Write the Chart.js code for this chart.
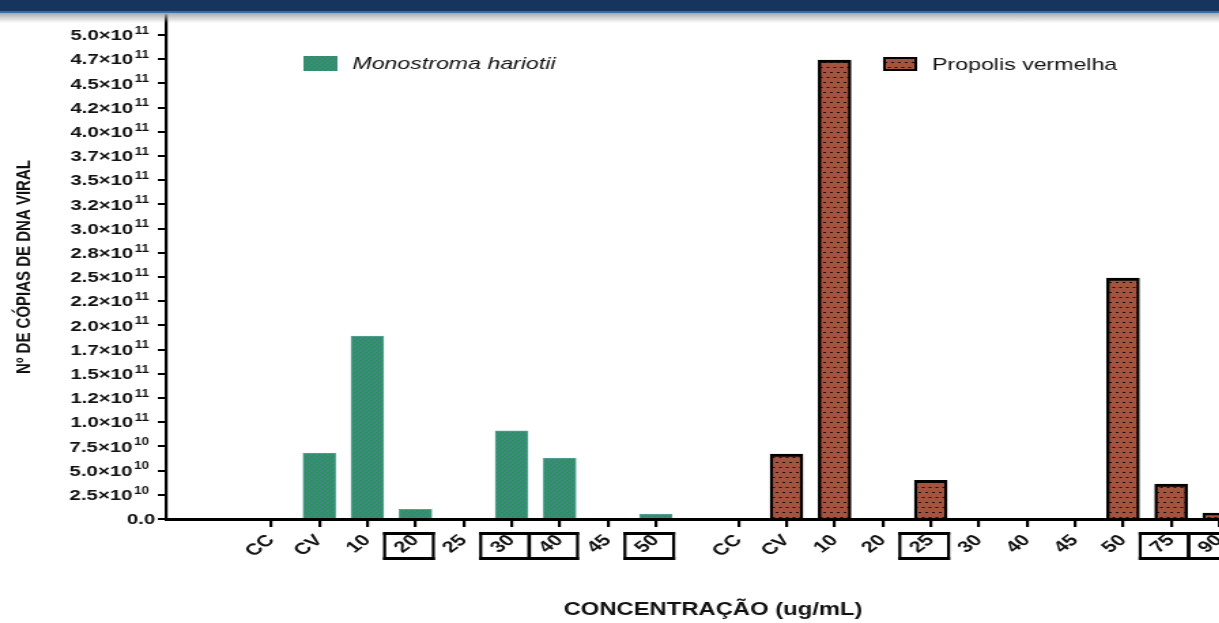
<!DOCTYPE html>
<html>
<head>
<meta charset="utf-8">
<script src="https://cdn.jsdelivr.net/npm/chart.js@4.4.1/dist/chart.umd.min.js"></script>
<style>
  html, body { margin: 0; padding: 0; background: #fff; overflow: hidden; width: 1219px; height: 623px; }
  #page { position: relative; width: 1219px; height: 623px; overflow: hidden; }
  /* the original figure is stretched sideways, so the chart is drawn narrow and scaled */
  #stretch { position: absolute; left: 0; top: 0; width: 926px; height: 623px; transform: scaleX(1.3607); transform-origin: 0 0; }
  #topbar { position: absolute; left: 0; top: 0; width: 100%; height: 11px; background: #17355c; }
  #topline { position: absolute; left: 0; top: 11px; width: 100%; height: 2px; background: #3f6ca8; }
  #topshade { position: absolute; left: 0; top: 13px; width: 100%; height: 10px; background: linear-gradient(#a9a9a9, rgba(255,255,255,0)); }
</style>
</head>
<body>
<div id="page">
  <div id="stretch"><canvas id="chart" width="926" height="623"></canvas></div>
  <div id="topbar"></div>
  <div id="topline"></div>
  <div id="topshade"></div>
</div>
<script>
  // --- data ---
  const MONO_LABELS = ['CC', 'CV', '10', '20', '25', '30', '40', '45', '50'];
  const MONO_VALUES = [0, 6.8e10, 1.89e11, 1.0e10, 0, 9.1e10, 6.3e10, 0, 5.0e9];
  const MONO_BOXED = ['20', '30', '40', '50'];

  const PROP_LABELS = ['CC', 'CV', '10', '20', '25', '30', '40', '45', '50', '75', '90'];
  const PROP_VALUES = [0, 6.7e10, 4.74e11, 0, 4.0e10, 0, 0, 0, 2.49e11, 3.6e10, 6.0e9];
  const PROP_BOXED = ['25', '75', '90'];

  // "mantissa×10^exp" as printed on the axis (bottom to top)
  const Y_TICK_LABELS = [
    '0.0', '2.5×10^10', '5.0×10^10', '7.5×10^10',
    '1.0×10^11', '1.2×10^11', '1.5×10^11', '1.7×10^11', '2.0×10^11', '2.2×10^11',
    '2.5×10^11', '2.8×10^11', '3.0×10^11', '3.2×10^11', '3.5×10^11', '3.7×10^11',
    '4.0×10^11', '4.2×10^11', '4.5×10^11', '4.7×10^11', '5.0×10^11'
  ];
  const Y_STEP = 2.5e10;
  const GROUP2_START = 9.72; // second group starts a bit after a one-slot gap

  const FONT = '"Liberation Sans", Arial, Helvetica, sans-serif';

  // x ticks: one per category, both groups on one linear axis
  const X_TICKS = [
    ...MONO_LABELS.map((l, i) => ({ value: i, label: l, boxed: MONO_BOXED.includes(l) })),
    ...PROP_LABELS.map((l, i) => ({ value: GROUP2_START + i, label: l, boxed: PROP_BOXED.includes(l) })),
  ];

  // fill patterns
  function monoPattern() {
    const c = document.createElement('canvas');
    c.width = 4; c.height = 4;
    const g = c.getContext('2d');
    g.fillStyle = '#438683'; g.fillRect(0, 0, 4, 4);
    g.fillStyle = '#24955a'; g.fillRect(0, 0, 2, 1); g.fillRect(2, 2, 2, 1);
    g.fillStyle = '#348d66'; g.fillRect(0, 1, 1, 1); g.fillRect(2, 3, 1, 1);
    return g.createPattern(c, 'repeat');
  }
  function propPattern() {
    const c = document.createElement('canvas');
    c.width = 5; c.height = 10;
    const g = c.getContext('2d');
    g.fillStyle = '#a4533f'; g.fillRect(0, 0, 5, 10);
    g.fillStyle = '#1a0a06'; g.fillRect(0, 2, 2, 1); g.fillRect(2.5, 7, 2, 1);
    return g.createPattern(c, 'repeat');
  }
  const MONO_FILL = monoPattern();
  const PROP_FILL = propPattern();

  // legend drawn at the spots used in the figure
  const legendPlugin = {
    id: 'floatLegend',
    afterDraw(chart) {
      const ctx = chart.ctx;
      const spots = [
        { x: 223, y: 56, h: 15, italic: true },
        { x: 649, y: 57, h: 14, italic: false },
      ];
      chart.data.datasets.forEach((ds, i) => {
        const s = spots[i];
        ctx.save();
        ctx.fillStyle = ds.backgroundColor;
        ctx.fillRect(s.x, s.y, 25, s.h);
        if (ds.borderColor === '#000') {
          ctx.strokeStyle = '#000';
          ctx.lineWidth = 2;
          ctx.strokeRect(s.x + 1, s.y + 1, 23, s.h - 2);
        }
        ctx.fillStyle = '#111';
        ctx.font = (s.italic ? 'italic ' : '') + '17px ' + FONT;
        ctx.textBaseline = 'middle';
        ctx.fillText(ds.label, s.x + 36, s.y + 8);
        ctx.restore();
      });
    }
  };

  // y labels with a raised exponent
  const yLabelPlugin = {
    id: 'yLabels',
    afterDraw(chart) {
      const ctx = chart.ctx;
      const sy = chart.scales.y;
      ctx.save();
      ctx.fillStyle = '#111';
      ctx.textBaseline = 'middle';
      ctx.textAlign = 'right';
      Y_TICK_LABELS.forEach((txt, i) => {
        const py = sy.getPixelForValue(i * Y_STEP);
        const [base, exp] = txt.split('^');
        if (exp) {
          ctx.font = 'bold 10px ' + FONT;
          ctx.fillText(exp, 109.5, py - 4);
          const w = ctx.measureText(exp).width;
          ctx.font = 'bold 15px ' + FONT;
          ctx.fillText(base, 109.5 - w - 1, py + 1);
        } else {
          ctx.font = 'bold 15px ' + FONT;
          ctx.fillText(base, 114, py + 1);
        }
      });
      ctx.restore();
    }
  };

  // rectangles around some of the x labels
  const boxPlugin = {
    id: 'labelBoxes',
    afterDraw(chart) {
      const ctx = chart.ctx;
      const sx = chart.scales.x;
      ctx.save();
      ctx.fillStyle = '#000';
      X_TICKS.forEach(t => {
        if (!t.boxed) return;
        const px = sx.getPixelForValue(t.value);
        const l = px - 23.8, r = px + 14.2, top = 532, bot = 560;
        ctx.fillRect(l, top, r - l, 3);
        ctx.fillRect(l, bot - 3, r - l, 3);
        ctx.fillRect(l, top, 2.2, bot - top);
        ctx.fillRect(r - 2.2, top, 2.2, bot - top);
      });
      ctx.restore();
    }
  };

  new Chart(document.getElementById('chart'), {
    type: 'bar',
    data: {
      datasets: [
        {
          label: 'Monostroma hariotii',
          data: MONO_VALUES.map((v, i) => ({ x: i, y: v })),
          backgroundColor: MONO_FILL,
          borderColor: '#5aa39c',
          borderWidth: 1,
          barThickness: 24,
          grouped: false,
        },
        {
          label: 'Propolis vermelha',
          data: PROP_VALUES.map((v, i) => ({ x: GROUP2_START + i, y: v })),
          backgroundColor: PROP_FILL,
          borderColor: '#000',
          borderWidth: { top: 3, left: 2.4, right: 2.4, bottom: 0 },
          barThickness: 24,
          grouped: false,
        }
      ]
    },
    options: {
      responsive: false,
      animation: false,
      devicePixelRatio: 1,
      layout: { padding: { top: 15, left: 0, right: 0, bottom: 0 } },
      plugins: { legend: { display: false }, tooltip: { enabled: false } },
      scales: {
        x: {
          type: 'linear',
          offset: false,
          min: -2.19,
          max: 20.57,
          afterBuildTicks(scale) { scale.ticks = X_TICKS.map(t => ({ value: t.value })); },
          afterFit(scale) { scale.height = 104; },
          grid: { display: true, offset: false, drawOnChartArea: false, tickLength: 8, lineWidth: 2.2, color: '#000' },
          border: { display: true, color: '#000', width: 3 },
          ticks: {
            autoSkip: false,
            minRotation: 45,
            maxRotation: 45,
            padding: 4,
            color: '#111',
            font: { family: FONT, size: 16, weight: 'bold' },
            callback: (v, i) => X_TICKS[i].label,
          },
          title: {
            display: true,
            text: 'CONCENTRAÇÃO (ug/mL)',
            color: '#111',
            font: { family: FONT, size: 17.5, weight: 'bold' },
            padding: { top: 0, bottom: 2 },
          },
        },
        y: {
          min: 0,
          max: 5.2066e11,
          afterBuildTicks(scale) { scale.ticks = Y_TICK_LABELS.map((l, i) => ({ value: i * Y_STEP })); },
          afterFit(scale) { scale.width = 122; },
          grid: { display: true, drawOnChartArea: false, tickLength: 6, lineWidth: 2, color: '#000' },
          border: { display: true, color: '#000', width: 2.2 },
          ticks: { display: false },
          title: {
            display: true,
            text: 'Nº DE CÓPIAS DE DNA VIRAL',
            color: '#111',
            font: { family: FONT, size: 15, weight: 'bold' },
            padding: { top: 9, bottom: 0 },
          },
        }
      }
    },
    plugins: [legendPlugin, yLabelPlugin, boxPlugin]
  });
</script>
</body>
</html>
